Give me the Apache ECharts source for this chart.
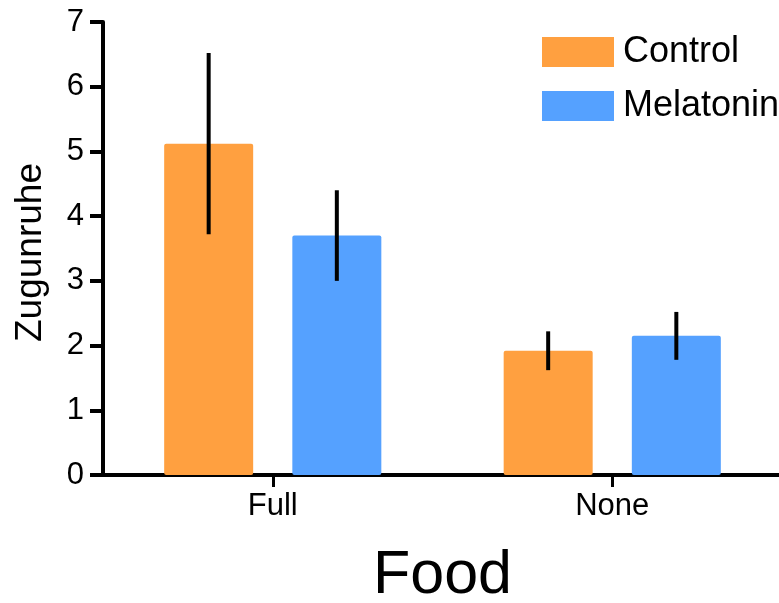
<!DOCTYPE html>
<html>
<head>
<meta charset="utf-8">
<script src="https://cdn.jsdelivr.net/npm/echarts@6/dist/echarts.min.js"></script>
<style>
html,body{margin:0;padding:0;background:#fff;}
#chart{width:779px;height:603px;}
</style>
</head>
<body>
<div id="chart"></div>
<script>
var categories = ['Full', 'None'];
var controlMeans = [5.12, 1.92];
var controlErr = [1.40, 0.30];
var melatoninMeans = [3.70, 2.15];
var melatoninErr = [0.70, 0.37];
var yTicks = [0, 1, 2, 3, 4, 5, 6, 7];

var FONT = '"Liberation Sans", Arial, Helvetica, sans-serif';
var BAR_W = 89;
var BAR_GAP = 0.44;
var OFFSET = (BAR_W + BAR_W * BAR_GAP) / 2;

function errData(means, errs) {
  return means.map(function (m, i) { return [i, m - errs[i], m + errs[i]]; });
}

function errRender(sign) {
  return function (params, api) {
    var p1 = api.coord([api.value(0), api.value(1)]);
    var p2 = api.coord([api.value(0), api.value(2)]);
    var x = p1[0] + sign * OFFSET;
    return {
      type: 'line',
      shape: { x1: x, y1: p1[1], x2: x, y2: p2[1] },
      style: { stroke: '#000', lineWidth: 4 }
    };
  };
}

var chart = echarts.init(document.getElementById('chart'), null, { renderer: 'canvas' });
chart.setOption({
  animation: false,
  backgroundColor: '#fff',
  textStyle: { fontFamily: FONT, color: '#000' },
  legend: {
    data: ['Control', 'Melatonin'],
    orient: 'vertical',
    left: 537,
    top: 29,
    itemWidth: 72,
    itemHeight: 30,
    itemGap: 18,
    icon: 'rect',
    textStyle: { fontSize: 36, color: '#000', fontFamily: FONT, padding: [0, 0, 0, 4] }
  },
  grid: { left: 103, top: 22, width: 679, bottom: 128, containLabel: false, outerBoundsMode: 'none' },
  xAxis: {
    type: 'category',
    data: categories,
    name: 'Food',
    nameLocation: 'middle',
    nameGap: 71,
    nameTextStyle: { fontSize: 61, color: '#000', fontFamily: FONT },
    axisLine: { show: true, lineStyle: { color: '#000', width: 4 } },
    axisTick: { show: true, alignWithLabel: true, length: 12, lineStyle: { color: '#000', width: 3 } },
    axisLabel: { fontSize: 31, color: '#000', margin: 16, fontFamily: FONT }
  },
  yAxis: {
    type: 'value',
    min: yTicks[0],
    max: yTicks[yTicks.length - 1],
    interval: 1,
    name: 'Zugunruhe',
    nameLocation: 'middle',
    nameGap: 54,
    nameTextStyle: { fontSize: 37, color: '#000', fontFamily: FONT, padding: [0, 8, 0, 0] },
    axisLine: { show: true, lineStyle: { color: '#000', width: 4 } },
    axisTick: { show: true, length: 13, lineStyle: { color: '#000', width: 4 } },
    axisLabel: { fontSize: 31, color: '#000', margin: 19, fontFamily: FONT },
    splitLine: { show: false }
  },
  series: [
    {
      name: 'Control', type: 'bar', data: controlMeans,
      barWidth: BAR_W, barGap: (BAR_GAP * 100) + '%',
      itemStyle: { color: '#FFA040', borderRadius: 2 }
    },
    {
      name: 'Melatonin', type: 'bar', data: melatoninMeans,
      barWidth: BAR_W, barGap: (BAR_GAP * 100) + '%',
      itemStyle: { color: '#55A1FF', borderRadius: 2 }
    },
    {
      name: 'Control error', type: 'custom', z: 10,
      data: errData(controlMeans, controlErr),
      encode: { x: 0, y: [1, 2] },
      renderItem: errRender(-1)
    },
    {
      name: 'Melatonin error', type: 'custom', z: 10,
      data: errData(melatoninMeans, melatoninErr),
      encode: { x: 0, y: [1, 2] },
      renderItem: errRender(1)
    }
  ]
});
</script>
</body>
</html>
